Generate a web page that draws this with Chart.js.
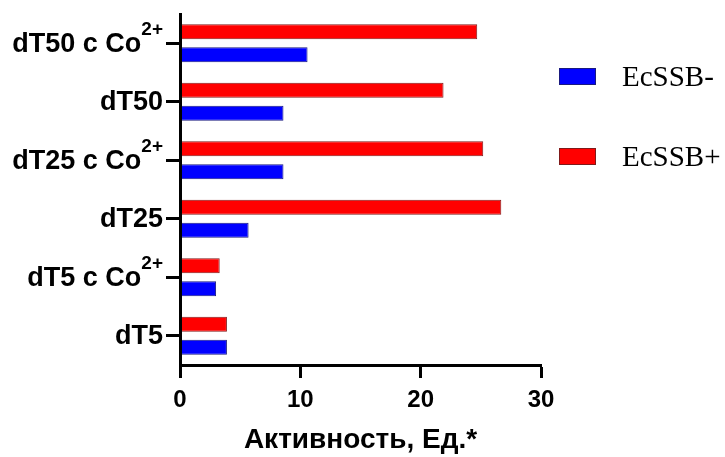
<!DOCTYPE html>
<html>
<head>
<meta charset="utf-8">
<script src="https://cdn.jsdelivr.net/npm/chart.js@4/dist/chart.umd.min.js"></script>
<style>
  body { margin: 0; background: #fff; }
  #wrap { position: relative; width: 725px; height: 457px; }
  .legend { position: absolute; left: 559px; font-family: "Liberation Serif", serif; font-size: 29px; color: #000; }
  .legend .box { position: absolute; left: 0; width: 37px; height: 17px; box-sizing: border-box; }
  .legend .txt { position: absolute; left: 63px; white-space: nowrap; line-height: 1; }
</style>
</head>
<body>
<div id="wrap">
  <canvas id="chart"></canvas>
  <div class="legend" style="top:68px">
    <div class="box" style="background:#0000ff;border:1px solid #1a1a80"></div>
    <div class="txt" style="top:-6px">EcSSB-</div>
  </div>
  <div class="legend" style="top:148px">
    <div class="box" style="background:#ff0000;border:1px solid #801a1a"></div>
    <div class="txt" style="top:-6px">EcSSB+</div>
  </div>
</div>
<script>
// categories (top to bottom) and the superscript part of each label
const categories = ["dT50 с Co", "dT50", "dT25 с Co", "dT25", "dT5 с Co", "dT5"];
const superscripts = ["2+", "", "2+", "", "2+", ""];

// activity values
const ecssbPlus = [24.7, 21.9, 25.2, 26.7, 3.3, 3.9];
const ecssbMinus = [10.6, 8.6, 8.6, 5.7, 3.0, 3.9];

const xTicks = [0, 10, 20, 30];

// draws the category labels with a real superscript
const labelPlugin = {
  id: "catLabels",
  afterDraw(chart) {
    const ctx = chart.ctx;
    const y = chart.scales.y;
    ctx.save();
    ctx.fillStyle = "#000";
    ctx.textBaseline = "middle";
    ctx.textAlign = "right";
    categories.forEach((c, i) => {
      const py = y.getPixelForTick(i);
      let xr = y.right - 17;
      const sup = superscripts[i];
      if (sup) {
        ctx.font = "bold 19px 'Liberation Sans', Arial, sans-serif";
        ctx.fillText(sup, xr, py - 13);
        xr -= ctx.measureText(sup).width;
      }
      ctx.font = "bold 27px 'Liberation Sans', Arial, sans-serif";
      ctx.fillText(c, xr, py + 1);
    });
    ctx.restore();
  }
};

new Chart(document.getElementById("chart"), {
  type: "bar",
  data: {
    labels: categories,
    datasets: [
      {
        label: "EcSSB+",
        data: ecssbPlus,
        backgroundColor: "#ff0000",
        borderColor: "#801a1a",
        borderWidth: 1,
        borderSkipped: false,
      },
      {
        label: "EcSSB-",
        data: ecssbMinus,
        backgroundColor: "#0000ff",
        borderColor: "#1a1a80",
        borderWidth: 1,
        borderSkipped: false,
      },
    ],
  },
  options: {
    indexAxis: "y",
    responsive: true,
    maintainAspectRatio: false,
    animation: false,
    categoryPercentage: 0.786,
    barPercentage: 0.652,
    layout: { padding: { top: 14, right: 184, left: 0, bottom: 0 } },
    plugins: {
      legend: { display: false },
      tooltip: { enabled: false },
    },
    scales: {
      x: {
        min: 0,
        max: 30,
        afterBuildTicks: (scale) => {
          scale.ticks = xTicks.map((v) => ({ value: v }));
        },
        afterFit: (scale) => {
          scale.height = 92;
        },
        grid: {
          drawOnChartArea: false,
          tickLength: 13,
          tickWidth: 3,
          tickColor: "#000",
        },
        border: { display: true, color: "#000", width: 3, z: 1 },
        ticks: {
          color: "#000",
          padding: 8,
          maxRotation: 0,
          font: { family: "'Liberation Sans', Arial, sans-serif", size: 24, weight: "bold" },
        },
        title: {
          display: true,
          text: "Активность, Ед.*",
          color: "#000",
          padding: { top: 0, bottom: 0 },
          font: { family: "'Liberation Sans', Arial, sans-serif", size: 28, weight: "bold" },
        },
      },
      y: {
        afterFit: (scale) => {
          scale.width = 180;
        },
        grid: {
          offset: false,
          drawOnChartArea: false,
          tickLength: 14,
          tickWidth: 3,
          tickColor: "#000",
        },
        border: { display: true, color: "#000", width: 3, z: 1 },
        ticks: { display: false },
      },
    },
  },
  plugins: [labelPlugin],
});
</script>
</body>
</html>
